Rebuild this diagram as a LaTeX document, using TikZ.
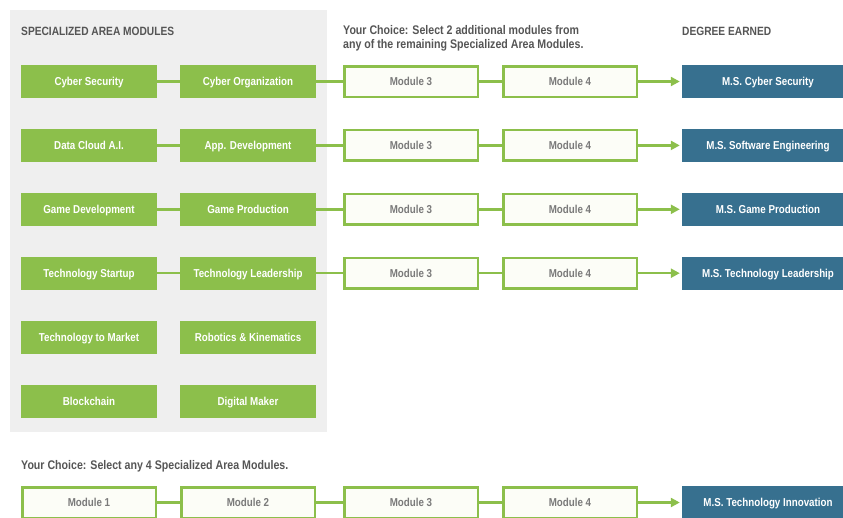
\documentclass[tikz,border=0pt]{standalone}
\usepackage{fontspec}
\setmainfont{Liberation Sans}[FakeStretch=0.85]
\usetikzlibrary{arrows.meta}

\definecolor{areagreen}{HTML}{8CBF4B}
\definecolor{degreeblue}{HTML}{37708F}
\definecolor{panelgray}{HTML}{EFEFEF}
\definecolor{labelgray}{HTML}{555555}
\definecolor{modgray}{HTML}{7A7A7A}
\definecolor{modfill}{HTML}{FCFDF7}

\tikzset{
  box/.style={minimum width=136pt,minimum height=33pt,inner sep=0pt,
    text height=8.2pt,text depth=0pt,
    font=\bfseries\fontsize{11.5}{13}\selectfont},
  area/.style={box,fill=areagreen,text=white},
  module/.style={box,draw=areagreen,line width=2.5pt,fill=modfill,text=modgray,
    minimum width=133.5pt,minimum height=30.5pt},
  degree/.style={box,fill=degreeblue,text=white,minimum width=172pt},
  link/.style={areagreen,line width=2.5pt},
  heading/.style={anchor=west,inner sep=0pt,text=labelgray,align=left,
    font=\bfseries\fontsize{12}{14}\selectfont},
  choice/.style={heading,font=\bfseries\fontsize{12.5}{14}\selectfont},
}

\begin{document}
\begin{tikzpicture}[x=1pt,y=-1pt]
  \clip (0,0) rectangle (843,517);
  \fill[panelgray] (10,10) rectangle (327,432);

  % headings
  \node[heading] (areatitle) at (21,31) {SPECIALIZED AREA MODULES};
  \node[choice] (choicetitle) at (343,38)
    {Your Choice: Select 2 additional modules from\\any of the remaining Specialized Area Modules.};
  \node[heading] (degreetitle) at (682,31) {DEGREE EARNED};
  \node[choice] (anytitle) at (21,466) {Your Choice: Select any 4 Specialized Area Modules.};

  % tracks with a fixed pair of area modules
  \foreach \i/\a/\b/\deg in {1/Cyber Security/Cyber Organization/M.S. Cyber Security,
      2/Data Cloud A.I./App. Development/M.S. Software Engineering,
      3/Game Development/Game Production/M.S. Game Production,
      4/Technology Startup/Technology Leadership/M.S. Technology Leadership}{
    \pgfmathsetmacro{\y}{81.5+63.9*(\i-1)}
    \node[area] (a\i) at (89,\y) {\a};
    \node[area] (b\i) at (248,\y) {\b};
    \node[module] (c\i) at (411,\y) {Module 3};
    \node[module] (d\i) at (570,\y) {Module 4};
    \node[degree] (deg\i) at (768,\y) {\deg};
    \draw[link] (a\i) -- (b\i) -- (c\i) -- (d\i);
    \draw[link,-{Triangle[length=9pt,width=9pt]},shorten >=2pt] (d\i) -- (deg\i);
  }

  % remaining area modules
  \node[area] (a5) at (89,337) {Technology to Market};
  \node[area] (b5) at (248,337) {Robotics \& Kinematics};
  \node[area] (a6) at (89,401) {Blockchain};
  \node[area] (b6) at (248,401) {Digital Maker};

  % free choice track
  \foreach \n/\x in {1/89,2/248,3/411,4/570}
    \node[module] (free\n) at (\x,502.5) {Module \n};
  \node[degree] (degfree) at (768,502.5) {M.S. Technology Innovation};
  \draw[link] (free1) -- (free2) -- (free3) -- (free4);
  \draw[link,-{Triangle[length=9pt,width=9pt]},shorten >=2pt] (free4) -- (degfree);
\end{tikzpicture}
\end{document}
